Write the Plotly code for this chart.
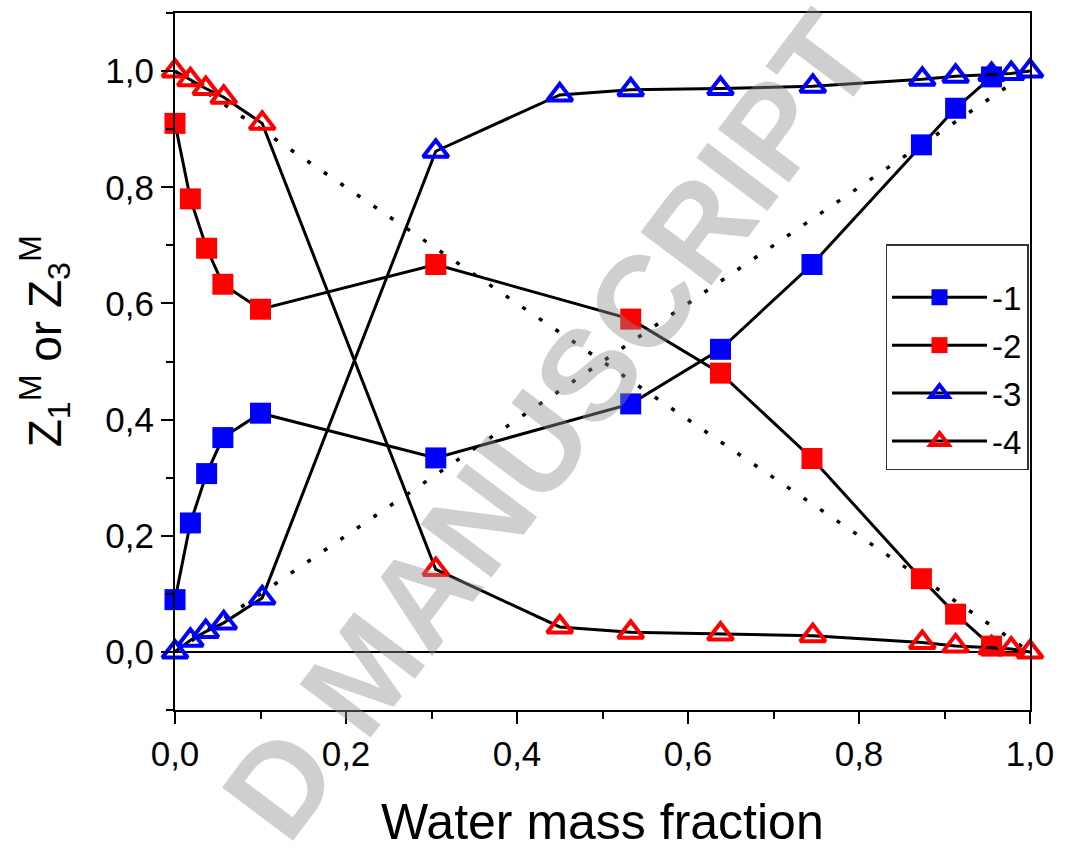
import plotly.graph_objects as go

# ---- data ----
x_sq = [0.0, 0.018, 0.037, 0.056, 0.1, 0.305, 0.533, 0.638, 0.745, 0.873, 0.913, 0.955]
z1 = [0.09, 0.222, 0.307, 0.369, 0.411, 0.334, 0.427, 0.521, 0.667, 0.873, 0.936, 0.99]
z2 = [0.91, 0.78, 0.695, 0.633, 0.59, 0.667, 0.573, 0.48, 0.333, 0.126, 0.065, 0.01]

x_tr = [0.0, 0.018, 0.036, 0.057, 0.102, 0.305, 0.45, 0.533, 0.638, 0.746, 0.874, 0.913, 0.955, 0.978, 1.0]
z3 = [0.0, 0.02, 0.035, 0.05, 0.093, 0.862, 0.959, 0.968, 0.970, 0.974, 0.986, 0.991, 0.994, 0.996, 1.0]
z4 = [1.0, 0.985, 0.97, 0.955, 0.91, 0.142, 0.043, 0.034, 0.031, 0.028, 0.016, 0.01, 0.007, 0.005, 0.0]

diag_x = [0.0, 1.0]
diag_up = [0.0, 1.0]
diag_down = [1.0, 0.0]

names = ["-1", "-2", "-3", "-4"]
x_ticks = [0.0, 0.2, 0.4, 0.6, 0.8, 1.0]
y_ticks = [0.0, 0.2, 0.4, 0.6, 0.8, 1.0]

FONT = "Liberation Sans, Arial, sans-serif"
BLUE = "#0000FF"
RED = "#FF0000"

fig = go.Figure()

for yy in (diag_up, diag_down):
    fig.add_trace(go.Scatter(
        x=diag_x, y=yy, mode="lines", showlegend=False, hoverinfo="skip",
        line=dict(color="black", width=3.5, dash="4px,16px")))

series = [
    (x_sq, z1, names[0], "square", BLUE),
    (x_sq, z2, names[1], "square", RED),
    (x_tr, z3, names[2], "triangle-up-open", BLUE),
    (x_tr, z4, names[3], "triangle-up-open", RED),
]
for xs, ys, nm, sym, col in series:
    if sym == "square":
        mk = dict(symbol=sym, size=21, color=col, line=dict(width=0))
    else:
        mk = dict(symbol=sym, size=22, color=col, line=dict(width=4, color=col))
    fig.add_trace(go.Scatter(
        x=xs, y=ys, name=nm, legendgroup=nm, mode="lines+markers", cliponaxis=False,
        line=dict(color="black", width=3), marker=mk))

axis_common = dict(
    showline=True, linecolor="black", linewidth=2, mirror=True,
    ticks="outside", ticklen=12, tickwidth=2, tickcolor="black",
    showgrid=False, tickformat=".1f",
    tickfont=dict(family=FONT, size=35, color="black"),
)

fig.update_xaxes(**axis_common, range=[0, 1], tickvals=x_ticks, zeroline=False,
                 minor=dict(dtick=0.1, ticklen=7, tickwidth=2, tickcolor="black", ticks="outside"))
fig.update_yaxes(**axis_common, range=[-0.1, 1.1], tickvals=y_ticks,
                 zeroline=True, zerolinecolor="black", zerolinewidth=2,
                 minor=dict(dtick=0.1, tick0=0, ticklen=7, tickwidth=2, tickcolor="black", ticks="outside"))

fig.update_layout(
    width=1065, height=849,
    margin=dict(l=175, r=33, t=11, b=139),
    paper_bgcolor="white", plot_bgcolor="white",
    separators=", ",
    font=dict(family=FONT, color="black"),
    showlegend=True,
    legend=dict(x=0.831, y=0.668, xanchor="left", yanchor="top",
                bgcolor="white", bordercolor="#333333", borderwidth=1.5,
                font=dict(family=FONT, size=33, color="black"),
                title=dict(text=" ", font=dict(size=18)),
                traceorder="grouped", tracegroupgap=2, itemwidth=95),
    annotations=[
        dict(text="<b>D MANUSCRIPT</b>", xref="paper", yref="paper",
             x=(550 - 175) / 857, y=(710 - 425) / 699, xanchor="center", yanchor="middle",
             textangle=-53, showarrow=False,
             font=dict(family=FONT, size=129, color="rgba(140,140,140,0.42)")),
        dict(text="Water mass fraction", xref="paper", yref="paper",
             x=0.5, y=(710 - 822) / 699, xanchor="center", yanchor="middle", showarrow=False,
             font=dict(family=FONT, size=50, color="black")),
        dict(text="Z<sub>1</sub><sup>M</sup> or Z<sub>3</sub><sup>M</sup>",
             xref="paper", yref="paper", x=(44 - 175) / 857, y=(710 - 340) / 699,
             xanchor="center", yanchor="middle", textangle=-90,
             showarrow=False, font=dict(family=FONT, size=46, color="black")),
    ],
)

fig.write_html("out.html")
